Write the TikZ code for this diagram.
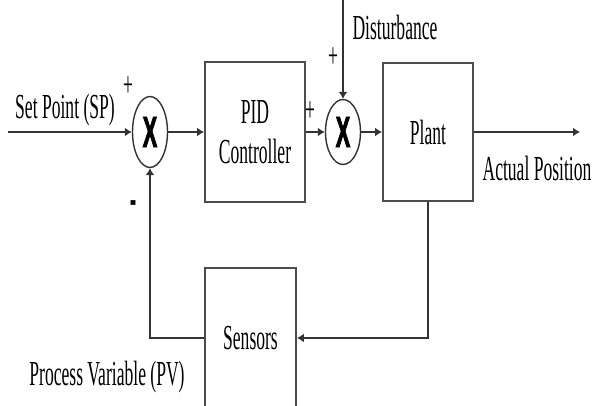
\documentclass[tikz,border=0pt]{standalone}
\usepackage{fontspec}
\setmainfont[FakeStretch=0.5]{Liberation Serif}
\newfontfamily\signfont[FakeStretch=0.5,BoldFeatures={FakeBold=1.5}]{Liberation Sans}
\usetikzlibrary{shapes.geometric,arrows.meta}

\tikzset{
    block/.style={draw=black!70, line width=1.1pt, rectangle, align=center,
                  font=\fontsize{20}{22.8}\selectfont},
    sumnode/.style={draw=black!80, line width=0.8pt, ellipse, inner sep=0pt,
                    minimum width=0.7cm, minimum height=1.36cm,
                    font=\signfont\bfseries\fontsize{25}{25}\selectfont},
    lbl/.style={font=\fontsize{20}{22.8}\selectfont, inner sep=0pt},
    flow/.style={draw=black!80, line width=1pt, -{Latex[length=1.4mm,width=1.8mm]}}
}

\begin{document}
\begin{tikzpicture}
    \useasboundingbox (0,0) rectangle (11.86,8.1);

    % Summing junctions
    \node[sumnode, minimum height=1.42cm] (sum1) at (3.0,5.46) {X};
    \node[sumnode, minimum height=1.3cm] (sum2) at (6.86,5.46) {X};

    % Blocks
    \node[block, minimum width=2cm, minimum height=2.8cm] (pid) at (5.1,5.46) {PID\\Controller};
    \node[block, minimum width=1.8cm, minimum height=2.76cm] (plant) at (8.56,5.46) {Plant};
    \node[block, minimum width=1.82cm, minimum height=2.8cm] (sensors) at (5.01,1.34) {Sensors};

    % Free ends
    \coordinate (sp) at (0.16,5.46);
    \coordinate (out) at (11.6,5.46);
    \coordinate (dist) at (6.86,8.1);

    % Forward path
    \draw[flow] (sp) -- (sum1.west);
    \draw[flow] (sum1.east) -- (pid.west);
    \draw[flow] (pid.east) -- (sum2.west);
    \draw[flow] (sum2.east) -- (plant.west);
    \draw[flow] (plant.east) -- (out);
    \draw[flow] (dist) -- (sum2.north);

    % Feedback path
    \draw[flow] (plant.south) |- (sensors.east);
    \draw[flow] (sensors.west) -| (sum1.south);

    % Labels
    \node[lbl] (splbl) at (1.3,5.9) {Set Point (SP)};
    \node[lbl] (plus1) at (2.56,6.36) {+};
    \node[lbl] (minus1) at (2.66,3.98) {\signfont\bfseries -};
    \node[lbl] (plus2) at (6.2,5.86) {+};
    \node[lbl] (plus3) at (6.66,6.94) {+};
    \node[lbl] (distlbl) at (7.9,7.56) {Disturbance};
    \node[lbl] (outlbl) at (10.74,4.74) {Actual Position};
    \node[lbl] (pvlbl) at (2.14,0.56) {Process Variable (PV)};
\end{tikzpicture}
\end{document}
